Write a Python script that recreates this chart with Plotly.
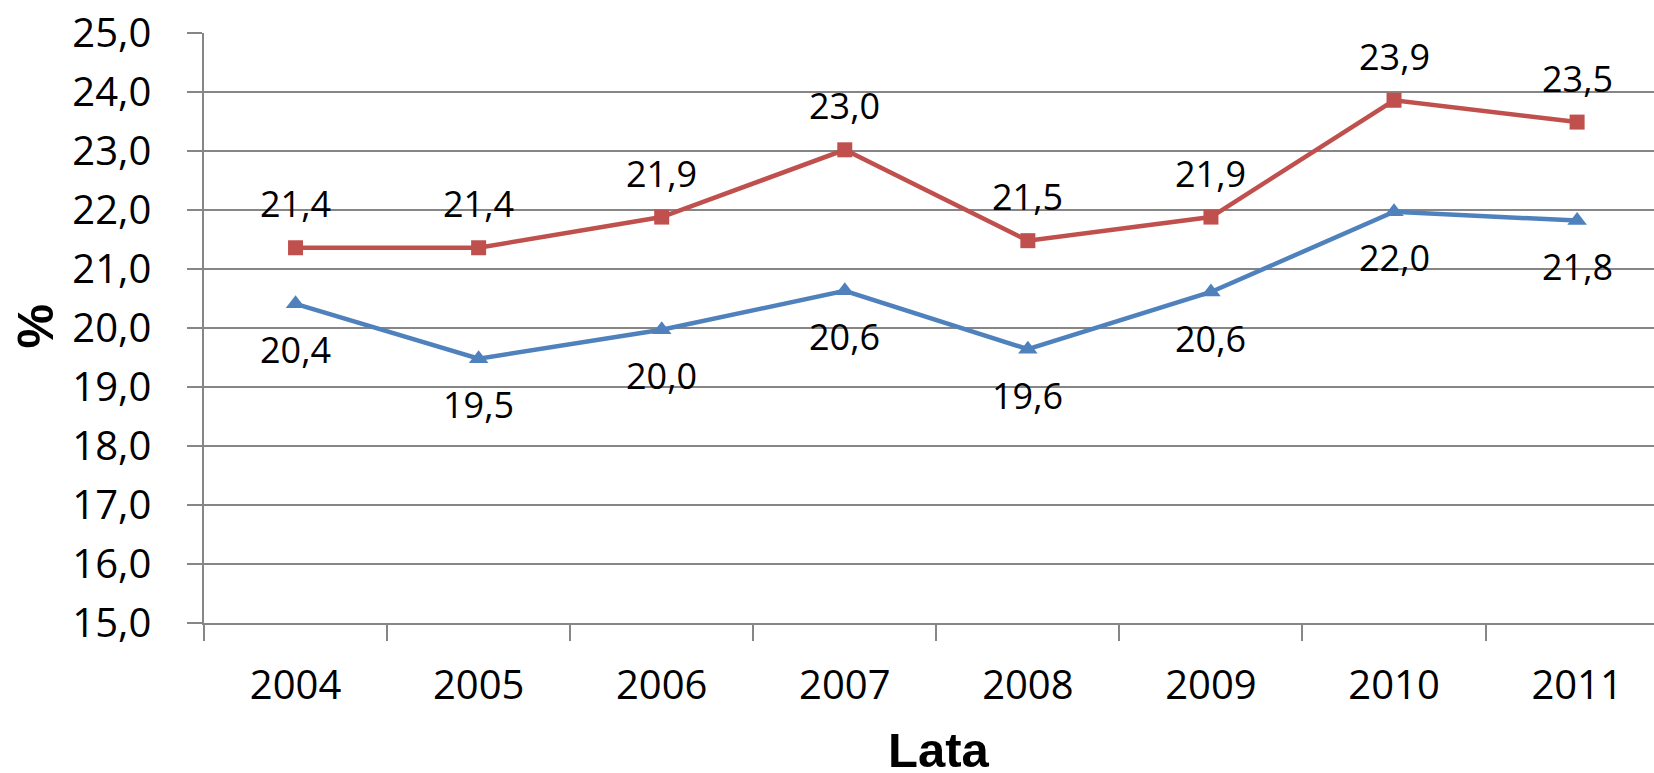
import plotly.graph_objects as go

years = ["2004", "2005", "2006", "2007", "2008", "2009", "2010", "2011"]
series_red = [21.36, 21.36, 21.88, 23.02, 21.48, 21.88, 23.86, 23.49]
series_blue = [20.41, 19.48, 19.97, 20.63, 19.64, 20.61, 21.97, 21.82]
y_ticks = [15, 16, 17, 18, 19, 20, 21, 22, 23, 24, 25]

RED = "#C0504D"
BLUE = "#4F81BD"
GRID = "#868686"
FONT = "Open Sans"

fig = go.Figure()
fig.add_trace(go.Scatter(
    x=years, y=series_red, mode="lines+markers",
    line=dict(color=RED, width=4.5),
    marker=dict(symbol="square", size=15, color=RED),
    showlegend=False, hoverinfo="skip",
))
fig.add_trace(go.Scatter(
    x=years, y=series_blue, mode="lines+markers",
    line=dict(color=BLUE, width=4.5),
    marker=dict(symbol="triangle-up", size=17, color=BLUE),
    showlegend=False, hoverinfo="skip",
))

annotations = []
for i, v in enumerate(series_red):
    annotations.append(dict(x=i, y=v, xref="x", yref="y", text=f"{v:.1f}".replace(".", ","),
                            showarrow=False, yshift=44, font=dict(family=FONT, size=36, color="black")))
for i, v in enumerate(series_blue):
    annotations.append(dict(x=i, y=v, xref="x", yref="y", text=f"{v:.1f}".replace(".", ","),
                            showarrow=False, yshift=-46, font=dict(family=FONT, size=36, color="black")))
annotations.append(dict(x=0.507, y=-0.216, xref="paper", yref="paper", text="<b>Lata</b>",
                        showarrow=False, xanchor="center", yanchor="middle",
                        font=dict(family="Liberation Sans", size=49, color="black")))
annotations.append(dict(x=-0.116, y=0.502, xref="paper", yref="paper", text="<b>%</b>",
                        showarrow=False, xanchor="center", yanchor="middle", textangle=-90,
                        font=dict(family="Liberation Sans", size=50, color="black")))

fig.update_layout(
    width=1654, height=773,
    margin=dict(l=204, r=0, t=33, b=150),
    paper_bgcolor="white", plot_bgcolor="white",
    separators=", ",
    annotations=annotations,
    font=dict(family=FONT, color="black"),
)
fig.update_xaxes(
    type="category", range=[-0.5, 7.42], tickson="boundaries",
    ticks="outside", ticklen=16, tickwidth=1.5, tickcolor=GRID,
    showline=True, linecolor=GRID, linewidth=1.5,
    showgrid=False, zeroline=False, automargin=False,
    tickfont=dict(family=FONT, size=40, color="black"),
    ticklabelstandoff=26,
)
fig.update_yaxes(
    range=[15, 25], tickvals=y_ticks, tickformat=".1f",
    ticks="outside", ticklen=15, tickwidth=1.5, tickcolor=GRID,
    showline=True, linecolor=GRID, linewidth=1.5,
    showgrid=True, gridcolor=GRID, gridwidth=1.5, zeroline=False, automargin=False,
    tickfont=dict(family=FONT, size=40, color="black"),
    ticklabelstandoff=28,
)

fig.write_html("out.html", config={"displayModeBar": False},
               post_script="document.body.style.margin='0px';document.body.style.overflow='hidden';")
